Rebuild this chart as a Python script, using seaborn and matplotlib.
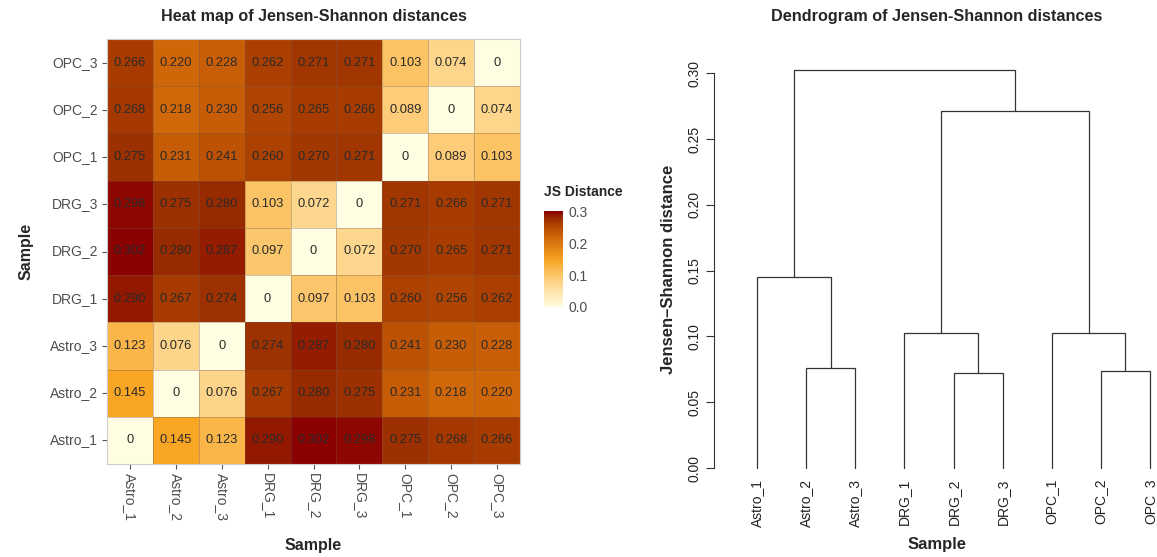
import numpy as np
import pandas as pd
import matplotlib
matplotlib.use("Agg")
import matplotlib.pyplot as plt
import seaborn as sns
from matplotlib.colors import LinearSegmentedColormap

# Muestras y matriz de distancias Jensen-Shannon
samples = ["Astro_1", "Astro_2", "Astro_3", "DRG_1", "DRG_2", "DRG_3",
           "OPC_1", "OPC_2", "OPC_3"]
astro_1 = [0, 0.145, 0.123, 0.290, 0.302, 0.298, 0.275, 0.268, 0.266]
astro_2 = [0.145, 0, 0.076, 0.267, 0.280, 0.275, 0.231, 0.218, 0.220]
astro_3 = [0.123, 0.076, 0, 0.274, 0.287, 0.280, 0.241, 0.230, 0.228]
drg_1 = [0.290, 0.267, 0.274, 0, 0.097, 0.103, 0.260, 0.256, 0.262]
drg_2 = [0.302, 0.280, 0.287, 0.097, 0, 0.072, 0.270, 0.265, 0.271]
drg_3 = [0.298, 0.275, 0.280, 0.103, 0.072, 0, 0.271, 0.266, 0.271]
opc_1 = [0.275, 0.231, 0.241, 0.260, 0.270, 0.271, 0, 0.089, 0.103]
opc_2 = [0.268, 0.218, 0.230, 0.256, 0.265, 0.266, 0.089, 0, 0.074]
opc_3 = [0.266, 0.220, 0.228, 0.262, 0.271, 0.271, 0.103, 0.074, 0]

dist = pd.DataFrame([astro_1, astro_2, astro_3, drg_1, drg_2, drg_3,
                     opc_1, opc_2, opc_3], index=samples, columns=samples)

sns.set_style("white")
plt.rcParams["font.family"] = ["Liberation Sans", "DejaVu Sans"]

fig = plt.figure(figsize=(11.57, 5.57), dpi=100)
W, H = 1157, 557

# ---------- Heatmap ----------
ax = fig.add_axes([107 / W, 1 - 464 / H, 413 / W, 425 / H])
cax = fig.add_axes([544 / W, 1 - 307 / H, 19 / W, 96 / H])
cmap = LinearSegmentedColormap.from_list("js", [
    (0.0, "#FFFDE2"), (0.25, "#FDD58A"), (0.41, "#FAB648"), (0.48, "#F8A623"),
    (0.73, "#CF6608"), (0.88, "#A83C00"), (0.93, "#982A00"), (1.0, "#8B0000")])

# filas de arriba a abajo: OPC_3 ... Astro_1
hm = dist.iloc[::-1]
annot = hm.map(lambda v: "0" if v == 0 else f"{v:.3f}")
sns.heatmap(hm, ax=ax, cbar_ax=cax, cmap=cmap, vmin=0, vmax=dist.values.max(),
            annot=annot, fmt="", annot_kws={"fontsize": 9.3, "color": "#2a2a2a"},
            linewidths=0.6, linecolor=(0.45, 0.35, 0.3, 0.35))
fig.text(313.5 / W, 1 - 17 / H, "Heat map of Jensen-Shannon distances",
         fontsize=11.6, fontweight="bold", ha="center", va="center")
ax.set_xlabel("Sample", fontsize=11.5, fontweight="bold", labelpad=12)
ax.set_ylabel("Sample", fontsize=11.5, fontweight="bold", labelpad=12)
ax.tick_params(axis="both", length=3.5, width=0.8, color="#555555",
               labelsize=10, labelcolor="#4d4d4d", pad=3, bottom=True, left=True)
ax.set_xticklabels(hm.columns, rotation=270)
ax.set_yticklabels(hm.index, rotation=0)
for s in ax.spines.values():
    s.set_visible(True)
    s.set_color("#cccccc")
    s.set_linewidth(0.8)

cbar = ax.collections[0].colorbar
cbar.set_ticks([0.0, 0.1, 0.2, 0.3])
cbar.set_ticklabels(["0.0", "0.1", "0.2", "0.3"])
cax.tick_params(length=3, width=0.8, color="white", direction="in",
                labelsize=10, labelcolor="#4d4d4d", pad=4)
cbar.outline.set_visible(False)
fig.text(544 / W, 1 - 192 / H, "JS Distance", fontsize=10, fontweight="bold",
         ha="left", va="center")

# ---------- Dendrogram (enlace completo) ----------
n = len(samples)
D = dist.values
clusters = {i: [i] for i in range(n)}
heights = {i: 0.0 for i in range(n)}
children = {}
next_id = n
while len(clusters) > 1:
    keys = sorted(clusters)
    best = None
    for a_i, a in enumerate(keys):
        for b in keys[a_i + 1:]:
            d = max(D[p, q] for p in clusters[a] for q in clusters[b])
            if best is None or d < best[0] - 1e-12:
                best = (d, a, b)
    d, a, b = best
    if min(clusters[a]) > min(clusters[b]):
        a, b = b, a
    clusters[next_id] = clusters.pop(a) + clusters.pop(b)
    heights[next_id] = d
    children[next_id] = (a, b)
    next_id += 1
root = next_id - 1
order = clusters[root]
xpos = {leaf: k + 1 for k, leaf in enumerate(order)}


def node_x(c):
    if c in xpos:
        return xpos[c]
    a, b = children[c]
    xpos[c] = (node_x(a) + node_x(b)) / 2
    return xpos[c]


dx = fig.add_axes([714 / W, 1 - 484 / H, (W - 714) / W, 430 / H])
for c, (a, b) in children.items():
    xa, xb, h = node_x(a), node_x(b), heights[c]
    dx.plot([xa, xa, xb, xb], [heights[a], h, h, heights[b]],
            color="#333333", lw=0.9, solid_joinstyle="miter")

unit = (1150 - 757) / 8
dx.set_xlim(1 - 43 / unit, 9 + (W - 1150) / unit)
dx.set_ylim(-0.012, 0.3145)
for leaf in order:
    dx.text(xpos[leaf], -0.008, samples[leaf], rotation=90, ha="center",
            va="top", fontsize=10, color="#222222")
dx.set_xticks([])
dx.set_yticks([0.0, 0.05, 0.10, 0.15, 0.20, 0.25, 0.30])
dx.set_yticklabels(["0.00", "0.05", "0.10", "0.15", "0.20", "0.25", "0.30"],
                   rotation=90, va="center")
dx.tick_params(axis="y", length=6, width=0.8, color="#333333", labelsize=10,
               labelcolor="#222222", left=True, pad=3)
for k, s in dx.spines.items():
    s.set_visible(k == "left")
dx.spines["left"].set_bounds(0, 0.30)
dx.spines["left"].set_color("#333333")
dx.spines["left"].set_linewidth(0.8)
dx.set_ylabel("Jensen\u2013Shannon distance", fontsize=12, fontweight="bold",
              labelpad=8)
fig.text(937 / W, 1 - 545 / H, "Sample", fontsize=12, fontweight="bold",
         ha="center", va="center")
fig.text(937 / W, 1 - 17 / H, "Dendrogram of Jensen-Shannon distances",
         fontsize=11.7, fontweight="bold", ha="center", va="center")

fig.savefig("out.png", dpi=100)
